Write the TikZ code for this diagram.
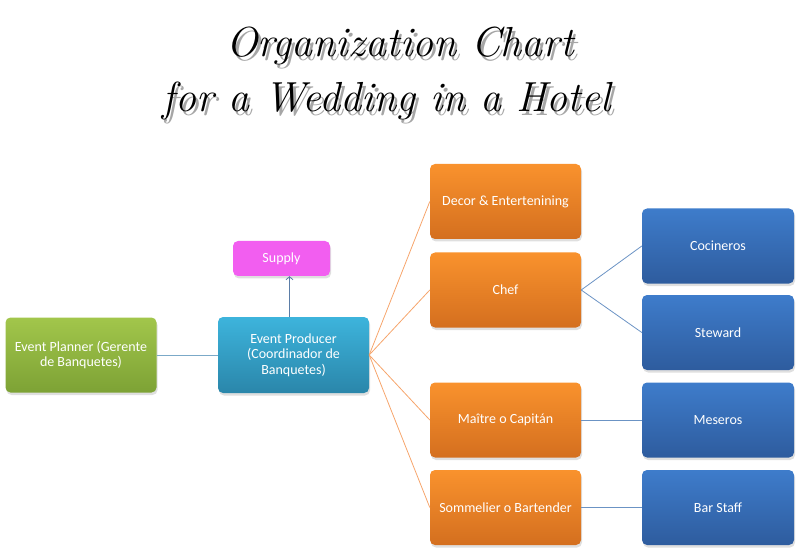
\documentclass[tikz,border=0pt]{standalone}
\usepackage{fontspec}
\setmainfont{Carlito}
\newfontfamily\chorusfont{Latin Modern Roman}
\usepackage{tikz}
\usetikzlibrary{shadows}
\usetikzlibrary{positioning}
\usetikzlibrary{arrows,arrows.meta}
\definecolor{greentop}{HTML}{A2C64B}
\definecolor{greenbot}{HTML}{7DA235}
\definecolor{cyantop}{HTML}{3DB4DC}
\definecolor{cyanbot}{HTML}{2A86AA}
\definecolor{oratop}{HTML}{F9922D}
\definecolor{orabot}{HTML}{D46F1F}
\definecolor{bluetop}{HTML}{3E7CCB}
\definecolor{bluebot}{HTML}{2E5C9E}
\definecolor{supplypink}{HTML}{F25EF0}
\definecolor{linegray}{HTML}{7BA9C8}
\definecolor{lineorange}{HTML}{F6A56C}
\definecolor{lineblue}{HTML}{6B93C4}
\tikzstyle{box}=[rectangle,rounded corners=5pt,minimum width=151pt,minimum height=75pt,inner sep=2pt,text=white,font=\fontsize{14}{15.5}\selectfont,align=center,drop shadow={opacity=0.25,shadow xshift=1pt,shadow yshift=-2.5pt}]
\tikzstyle{greenbox}=[box,top color=greentop,bottom color=greenbot]
\tikzstyle{cyanbox}=[box,top color=cyantop,bottom color=cyanbot,minimum height=76pt]
\tikzstyle{orangebox}=[box,top color=oratop,bottom color=orabot]
\tikzstyle{bluebox}=[box,top color=bluetop,bottom color=bluebot,minimum width=152pt]
\tikzstyle{pinkbox}=[box,fill=supplypink,minimum width=97pt,minimum height=35pt]
\tikzstyle{link} = [draw,line width=0.8pt]
\tikzstyle{titletext} = [font=\chorusfont\itshape\fontsize{42}{42}\selectfont,anchor=base]

\begin{document}
\begin{tikzpicture}[x=1pt,y=-1pt]
  \useasboundingbox (0,0) rectangle (800,553);

  % title with its shadow
  \foreach \pos/\name/\txt in {{(400,57)/titleA/Organization Chart}, {(387,112)/titleB/for a Wedding in a Hotel}}
  {
    \node[titletext,text=black!35,xshift=3pt,yshift=-4pt] (\name shadow) at \pos {\txt};
    \node[titletext] (\name) at \pos {\txt};
  }

  \node[greenbox] (planner) at (81,355) {Event Planner (Gerente\\de Banquetes)};
  \node[cyanbox] (producer) at (293.5,355) {Event Producer\\(Coordinador de\\Banquetes)};
  \node[pinkbox] (supply) at (281.5,258.5) {Supply};

  \foreach \pos/\name/\label in {{(505.5,201.5)/decor/Decor \& Entertenining}, {(505.5,290)/chef/Chef}, {(505.5,420)/maitre/Maître o Capitán}, {(505.5,507.5)/sommelier/Sommelier o Bartender}}
        \node[orangebox] (\name) at \pos {\label};

  \foreach \pos/\name/\label in {{(718,246)/cocineros/Cocineros}, {(718,332.5)/steward/Steward}, {(718,420)/meseros/Meseros}, {(718,507.5)/barstaff/Bar Staff}}
        \node[bluebox] (\name) at \pos {\label};

  % Connect boxes
  \path[link,linegray] (planner) -- (producer);
  \draw[link,-{Straight Barb[length=3pt,width=7pt]},color=lineblue!85!black] ([xshift=-4pt]producer.north) -- ([xshift=-4pt]producer.north |- supply.south);

  \foreach \dest in {decor, chef, maitre, sommelier}
          \path[link,lineorange] (producer.east) -- (\dest.west);

  \foreach \source/ \dest in {chef/cocineros, chef/steward, maitre/meseros, sommelier/barstaff}
          \path[link,lineblue] (\source.east) -- (\dest.west);

\end{tikzpicture}
\end{document}
